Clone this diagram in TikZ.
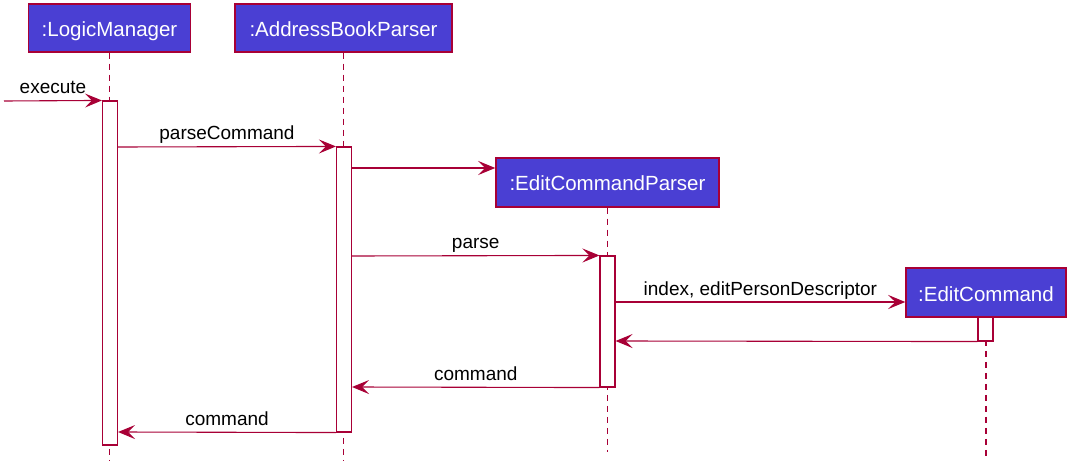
\documentclass[tikz,border=0pt]{standalone}
\usepackage{fontspec}
\setmainfont{Liberation Sans}
\usetikzlibrary{arrows.meta}
\definecolor{umlred}{HTML}{A80036}
\definecolor{umlfill}{HTML}{4A3FD3}
\begin{document}
\begin{tikzpicture}[x=1pt,y=-1pt,
  partbox/.style={draw=umlred,line width=1.5pt,fill=umlfill,text=white,
    font=\fontsize{20.5}{24}\selectfont,inner sep=0pt,anchor=center,
    text height=17pt,text depth=0pt},
  actbox/.style={draw=umlred,line width=1.1pt,fill=white,inner sep=0pt,minimum width=15pt},
  lifeline/.style={draw=umlred,line width=1.1pt,dash pattern=on 6pt off 5pt},
  msg/.style={draw=umlred,line width=1.1pt,-{Stealth[length=17pt,width=14pt,inset=7pt]}},
  lbl/.style={midway,anchor=base,yshift=7pt,text=black,font=\fontsize{19}{22}\selectfont,inner sep=0pt}]
\useasboundingbox (0,0) rectangle (1080,476);
\fill[white] (0,0) rectangle (1080,476);

% participants
\node[partbox,minimum width=162pt,minimum height=48pt] (lm) at (109.5,28) {:LogicManager};
\node[partbox,minimum width=217pt,minimum height=48pt] (abp) at (343.5,28) {:AddressBookParser};
\node[partbox,minimum width=223pt,minimum height=49pt] (ecp) at (607.5,182.5) {:EditCommandParser};
\node[partbox,minimum width=160pt,minimum height=49pt] (ec) at (986,292.5) {:EditCommand};

% lifeline ends
\coordinate (lmend) at (109.5,460);
\coordinate (abpend) at (343.5,460);
\coordinate (ecpend) at (607.5,452);
\coordinate (ecend) at (986,457);

\draw[lifeline] (lm.south) -- (lmend);
\draw[lifeline] (abp.south) -- (abpend);
\draw[lifeline] (ecp.south) -- (ecpend);
\draw[lifeline] (ec.south) -- (ecend);

% activations
\node[actbox,minimum height=344pt] (lma) at (110,273) {};
\node[actbox,minimum height=285pt] (abpa) at (344,289.5) {};
\node[actbox,minimum height=131pt] (ecpa) at (607.5,321.5) {};
\node[actbox,minimum height=24pt] (eca) at (985.5,329) {};

% message rows
\coordinate (start) at (4,101);
\coordinate (r1) at (0,147);
\coordinate (r2) at (0,168);
\coordinate (r3) at (0,256);
\coordinate (r4) at (0,302);
\coordinate (r5) at (0,341);
\coordinate (r6) at (0,387);
\coordinate (r7) at (0,432);

\draw[msg] (start) -- (lma.north west) node[lbl] {execute};
\draw[msg] (lma.east |- r1) -- (abpa.north west) node[lbl] {parseCommand};
\draw[msg] (abpa.east |- r2) -- (ecp.west |- r2);
\draw[msg] (abpa.east |- r3) -- (ecpa.north west) node[lbl] {parse};
\draw[msg] (ecpa.east |- r4) -- (ec.west |- r4) node[lbl] {index, editPersonDescriptor};
\draw[msg] (eca.south west) -- (ecpa.east |- r5);
\draw[msg] (ecpa.south west) -- (abpa.east |- r6) node[lbl] {command};
\draw[msg] (abpa.south west) -- (lma.east |- r7) node[lbl] {command};
\end{tikzpicture}
\end{document}
